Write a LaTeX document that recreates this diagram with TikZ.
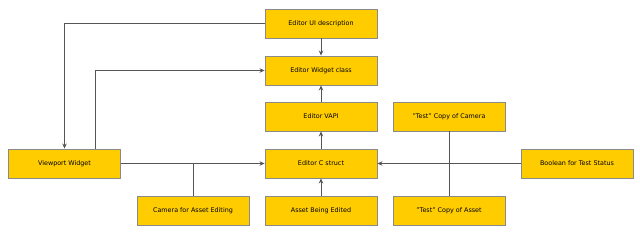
\documentclass[tikz,border=0pt]{standalone}
\usepackage{fontspec}
\setmainfont{DejaVu Sans}
\usepackage{xcolor}
\usetikzlibrary{arrows.meta,positioning}
\definecolor{boxgold}{HTML}{FFCC00}
\definecolor{boxedge}{HTML}{8A8A8A}
\definecolor{wire}{HTML}{555555}

\begin{document}
\begin{tikzpicture}[
  x=1pt, y=-1pt,
  >={Stealth[length=5pt,width=4.5pt]},
  block/.style={draw=boxedge, fill=boxgold, line width=0.9pt, align=center,
    minimum width=112pt, minimum height=29pt, inner sep=1pt,
    font=\fontsize{6.4}{7}\selectfont},
  every path/.style={draw=wire, line width=0.8pt}
]
  \useasboundingbox[draw=none] (0,0) rectangle (640,234);

  \node[block] (ui) at (321,23.5) {Editor UI description};
  \node[block] (widget) at (321,70.5) {Editor Widget class};
  \node[block] (vapi) at (321,116.5) {Editor VAPI};
  \node[block] (cstruct) at (321,163.5) {Editor C struct};
  \node[block] (asset) at (321,210.5) {Asset Being Edited};
  \node[block] (viewport) at (64.5,163.5) {Viewport Widget};
  \node[block] (camera) at (193,210.5) {Camera for Asset Editing};
  \node[block] (testcam) at (449,116.5) {"Test" Copy of Camera};
  \node[block] (testasset) at (449,210.5) {"Test" Copy of Asset};
  \node[block] (flag) at (577,163.5) {Boolean for Test Status};

  \draw[->] (ui.west) -| (viewport.north);
  \draw[->] ([xshift=31pt]viewport.north) |- (widget.west);
  \draw[->] (ui) -- (widget);
  \draw[->] (vapi) -- (widget);
  \draw[->] (cstruct) -- (vapi);
  \draw[->] (asset) -- (cstruct);
  \draw[->] (viewport) -- (cstruct);
  \draw (camera.north) -- (camera.north |- cstruct.west);
  \draw[->] (flag) -- (cstruct);
  \draw (testcam) -- (testasset);
\end{tikzpicture}
\end{document}
